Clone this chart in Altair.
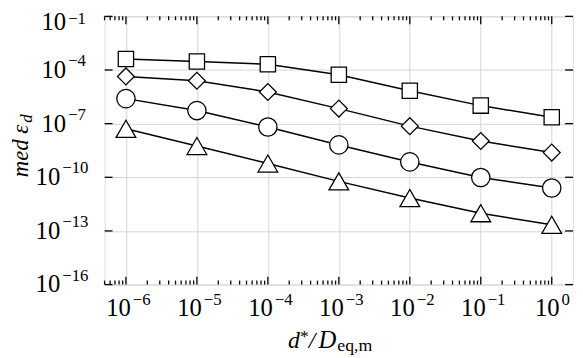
import altair as alt
import pandas as pd

# ---- data ----
x_vals = [1e-6, 1e-5, 1e-4, 1e-3, 1e-2, 1e-1, 1e0]
squares = [4.17e-4, 2.95e-4, 2.09e-4, 5.37e-5, 6.9e-6, 1.02e-6, 2.29e-7]
diamonds = [4.37e-5, 2.51e-5, 5.89e-6, 6.92e-7, 7.24e-8, 1.07e-8, 2.40e-9]
circles = [2.51e-6, 5.37e-7, 6.46e-8, 6.46e-9, 7.24e-10, 9.77e-11, 2.51e-11]
triangles = [5.13e-8, 5.62e-9, 5.89e-10, 5.89e-11, 6.92e-12, 9.77e-13, 2.19e-13]

series_names = ["sq", "di", "ci", "tr"]
series_shapes = ["square", "diamond", "circle", "triangle-up"]
series_sizes = [240, 400, 240, 230]

x_major = [1e-6, 1e-5, 1e-4, 1e-3, 1e-2, 1e-1, 1e0]
x_minor = [5e-7, 6e-7, 7e-7, 8e-7, 9e-7,
           2e-6, 3e-6, 4e-6, 5e-6, 6e-6, 7e-6, 8e-6, 9e-6,
           2e-5, 3e-5, 4e-5, 5e-5, 6e-5, 7e-5, 8e-5, 9e-5,
           2e-4, 3e-4, 4e-4, 5e-4, 6e-4, 7e-4, 8e-4, 9e-4,
           2e-3, 3e-3, 4e-3, 5e-3, 6e-3, 7e-3, 8e-3, 9e-3,
           2e-2, 3e-2, 4e-2, 5e-2, 6e-2, 7e-2, 8e-2, 9e-2,
           2e-1, 3e-1, 4e-1, 5e-1, 6e-1, 7e-1, 8e-1, 9e-1]
y_major = [1e-16, 1e-13, 1e-10, 1e-7, 1e-4, 1e-1]
x_exps = ["−6", "−5", "−4", "−3", "−2", "−1", "0"]
y_exps = ["−16", "−13", "−10", "−7", "−4", "−1"]

rows = []
for name, ys in zip(series_names, [squares, diamonds, circles, triangles]):
    for xv, yv in zip(x_vals, ys):
        rows.append({"s": name, "x": xv, "y": yv})
df = pd.DataFrame(rows)

W, H = 475, 272
FONT = "Liberation Serif"
BIG = 25
SUP = 17

xscale = alt.Scale(type="log", domain=[10 ** -6.3, 10 ** 0.3], nice=False)
yscale = alt.Scale(type="log", domain=[1e-16, 1e-1], nice=False)

xaxis = alt.Axis(values=x_major, labels=False, title=None, grid=True,
                 gridColor="#d4d4d4", gridWidth=1, tickSize=0, domain=False)
yaxis = alt.Axis(values=y_major, labels=False, title=None, grid=True,
                 gridColor="#d4d4d4", gridWidth=1, tickSize=0, domain=False)

base = alt.Chart(df)
lines = base.mark_line(color="black", strokeWidth=1.5).encode(
    x=alt.X("x:Q", scale=xscale, axis=xaxis),
    y=alt.Y("y:Q", scale=yscale, axis=yaxis),
    detail="s:N",
)
points = base.mark_point(filled=False, fill="white", fillOpacity=1, stroke="black",
                         strokeWidth=1.3, opacity=1).encode(
    x=alt.X("x:Q", scale=xscale),
    y=alt.Y("y:Q", scale=yscale),
    shape=alt.Shape("s:N", scale=alt.Scale(domain=series_names, range=series_shapes), legend=None),
    size=alt.Size("s:N", scale=alt.Scale(domain=series_names, range=series_sizes), legend=None),
)

xmaj_df = pd.DataFrame({"v": x_major})
xmin_df = pd.DataFrame({"v": x_minor})
ymaj_df = pd.DataFrame({"v": y_major})


def xticks(d, length):
    bot = alt.Chart(d).mark_rule(color="black", strokeWidth=1.3).encode(
        x=alt.X("v:Q", scale=xscale), y=alt.value(H), y2=alt.value(H - length))
    top = alt.Chart(d).mark_rule(color="black", strokeWidth=1.3).encode(
        x=alt.X("v:Q", scale=xscale), y=alt.value(0), y2=alt.value(length))
    return [bot, top]


yl = alt.Chart(ymaj_df).mark_rule(color="black", strokeWidth=1.3).encode(
    y=alt.Y("v:Q", scale=yscale), x=alt.value(0), x2=alt.value(8))
yr = alt.Chart(ymaj_df).mark_rule(color="black", strokeWidth=1.3).encode(
    y=alt.Y("v:Q", scale=yscale), x=alt.value(W - 8), x2=alt.value(W))

# ---- tick labels as text marks: "10" + raised exponent ----
xlab_df = pd.DataFrame({"v": x_major, "e": x_exps})
ylab_df = pd.DataFrame({"v": y_major, "e": y_exps})


def xlab(d, dx10, dxe):
    ten = alt.Chart(d).mark_text(font=FONT, fontSize=BIG, align="right", baseline="alphabetic",
                                 dx=dx10, color="black").encode(
        x=alt.X("v:Q", scale=xscale), y=alt.value(H + 32), text=alt.value("10"))
    ex = alt.Chart(d).mark_text(font=FONT, fontSize=SUP, align="left", baseline="alphabetic",
                                dx=dxe, color="black").encode(
        x=alt.X("v:Q", scale=xscale), y=alt.value(H + 21), text="e:N")
    return [ten, ex]


def ylab(d, x10, dy10, dye):
    ten = alt.Chart(d).mark_text(font=FONT, fontSize=BIG, align="right", baseline="alphabetic",
                                 dy=dy10, color="black").encode(
        y=alt.Y("v:Q", scale=yscale), x=alt.value(x10), text=alt.value("10"))
    ex = alt.Chart(d).mark_text(font=FONT, fontSize=SUP, align="left", baseline="alphabetic",
                                dy=dye, color="black").encode(
        y=alt.Y("v:Q", scale=yscale), x=alt.value(x10 + 2), text="e:N")
    return [ten, ex]


labels = (xlab(xlab_df.iloc[:6], 5, 7) + xlab(xlab_df.iloc[6:], 8, 10)
          + ylab(ylab_df.iloc[:3], -45, 8, -4) + ylab(ylab_df.iloc[3:5], -39, 8, -4)
          + ylab(ylab_df.iloc[5:], -39, 14, 8))


def txt(text, x, y, size, italic=False, angle=0, align="left", baseline="alphabetic"):
    m = alt.Chart(pd.DataFrame({"t": [text]})).mark_text(
        font=FONT, fontSize=size, fontStyle="italic" if italic else "normal",
        angle=angle, align=align, baseline=baseline, color="black")
    return m.encode(text="t:N", x=alt.value(x), y=alt.value(y))


ty = 336
title_parts = [
    txt("d", 186, ty, 24, italic=True),
    txt("*", 198, ty - 6, 18),
    txt("/", 207, ty, 24, italic=True),
    txt("D", 217, ty, 25, italic=True),
    txt("eq,m", 236, ty + 3, 18),
    txt("med ε", -78, 110, 23, italic=True, angle=270, align="right"),
    txt("d", -74, 108, 17, italic=True, angle=270, align="left"),
]

chart = alt.layer(
    lines, points, *xticks(xmaj_df, 8), *xticks(xmin_df, 4), yl, yr, *labels, *title_parts
).properties(
    width=W, height=H,
    autosize=alt.AutoSizeParams(type="none"),
    padding={"left": 98, "top": 6, "right": 2, "bottom": 72},
).configure_view(
    stroke="black", strokeWidth=1.6
).configure(background="white")

chart.save("out.html", embed_options={"renderer": "svg", "actions": False})
